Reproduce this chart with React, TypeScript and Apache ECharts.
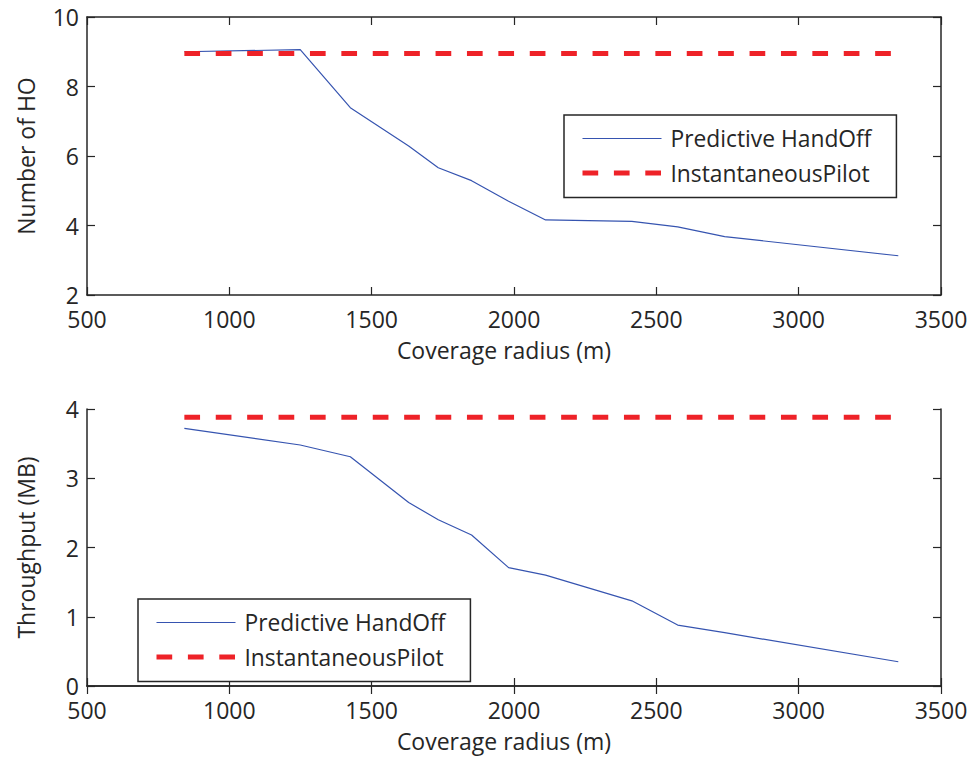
import React, { useEffect, useRef } from "react";
import * as echarts from "echarts";

// Coverage radius (m) at which each scheme was evaluated
const radius = [842, 1249, 1425, 1630, 1734, 1851, 1981, 2111, 2414, 2575, 2740, 3350];
// Predictive hand-off results
const handoffCount = [9.0, 9.06, 7.39, 6.29, 5.66, 5.29, 4.7, 4.16, 4.12, 3.96, 3.68, 3.13];
const handoffThroughput = [3.72, 3.48, 3.31, 2.65, 2.4, 2.18, 1.71, 1.6, 1.23, 0.88, 0.77, 0.35];
// Instantaneous pilot results (flat over the radius range)
const pilotCount = 8.95;
const pilotThroughput = 3.88;

const seriesNames = ["Predictive HandOff", "InstantaneousPilot"];
const xTicks = [500, 1000, 1500, 2000, 2500, 3000, 3500];
const countTicks = [2, 4, 6, 8, 10];
const throughputTicks = [0, 1, 2, 3, 4];

const FONT = "'Open Sans', 'Noto Sans', sans-serif";
const INK = "#262626";
const BLUE = "#3654b0";
const RED = "#ee2228";
const DASH = [15.7, 15.7];

const axisLine = { show: true, lineStyle: { color: INK, width: 1.5 } };
const tick = { show: true, inside: true, length: 8, lineStyle: { color: INK, width: 1.2 } };
const label = { color: INK, fontFamily: FONT, fontSize: 23 };

function xAxes(gridIndex: number) {
  return [
    {
      type: "value",
      gridIndex,
      min: xTicks[0],
      max: xTicks[xTicks.length - 1],
      interval: xTicks[1] - xTicks[0],
      position: "bottom",
      name: "Coverage radius (m)",
      nameLocation: "middle",
      nameGap: 43,
      nameTextStyle: { ...label, padding: [0, 20, 0, 0] },
      axisLine,
      axisTick: tick,
      axisLabel: {
        ...label,
        lineHeight: 17,
        margin: 15,
        formatter: (v: number) => String(v),
      },
      splitLine: { show: false },
    },
    {
      type: "value",
      gridIndex,
      min: xTicks[0],
      max: xTicks[xTicks.length - 1],
      interval: xTicks[1] - xTicks[0],
      position: "top",
      axisLine,
      axisTick: tick,
      axisLabel: { show: false },
      splitLine: { show: false },
    },
  ];
}

function yAxes(gridIndex: number, ticks: number[], name: string, nameGap: number) {
  const base = {
    type: "value",
    gridIndex,
    min: ticks[0],
    max: ticks[ticks.length - 1],
    interval: ticks[1] - ticks[0],
    splitLine: { show: false },
    axisLine,
    axisTick: tick,
  };
  return [
    {
      ...base,
      position: "left",
      name,
      nameLocation: "middle",
      nameGap,
      nameRotate: 90,
      nameTextStyle: { ...label },
      axisLabel: { ...label, lineHeight: 17, margin: 8 },
    },
    { ...base, position: "right", axisLabel: { show: false } },
  ];
}

// Legend entries draw only the line sample; the marker is made invisible.
const hiddenMarker = { color: "rgba(0,0,0,0)", borderWidth: 0, opacity: 0 };

function legend(left: number, top: number) {
  return {
    left,
    top,
    orient: "vertical",
    selectedMode: false,
    backgroundColor: "#fff",
    borderColor: INK,
    borderWidth: 1.5,
    borderRadius: 0,
    padding: [12, 25, 13, 16],
    itemWidth: 79,
    itemHeight: 26,
    itemGap: 11.5,
    textStyle: { ...label, fontSize: 22.8, padding: [0, 0, 0, 4] },
    data: [
      {
        name: seriesNames[0],
        itemStyle: hiddenMarker,
        lineStyle: { color: BLUE, width: 1.2, type: "solid" },
      },
      {
        name: seriesNames[1],
        itemStyle: hiddenMarker,
        lineStyle: { color: RED, width: 5, type: DASH },
      },
    ],
  };
}

function lineSeries(name: string, idx: number, data: number[][], dashed: boolean) {
  return {
    type: "line",
    name,
    xAxisIndex: idx,
    yAxisIndex: idx,
    data,
    symbol: "none",
    silent: true,
    lineStyle: dashed
      ? { color: RED, width: 5, type: DASH, cap: "butt" }
      : { color: BLUE, width: 1.2 },
    itemStyle: { color: dashed ? RED : BLUE },
  };
}

export default function App() {
  const ref = useRef<HTMLDivElement>(null);

  useEffect(() => {
    if (!ref.current) return;
    const chart = echarts.init(ref.current, undefined, { renderer: "svg" });

    const countData = radius.map((r, i) => [r, handoffCount[i]]);
    const throughputData = radius.map((r, i) => [r, handoffThroughput[i]]);
    const pilotCountData = radius.map((r) => [r, pilotCount]);
    const pilotThroughputData = radius.map((r) => [r, pilotThroughput]);

    chart.setOption({
      animation: false,
      backgroundColor: "#ffffff",
      textStyle: { fontFamily: FONT },
      grid: [
        { left: 87, top: 17, width: 854, height: 278 },
        { left: 87, top: 409, width: 854, height: 277 },
      ],
      xAxis: [...xAxes(0), ...xAxes(1)],
      yAxis: [
        ...yAxes(0, countTicks, "Number of HO", 50),
        ...yAxes(1, throughputTicks, "Throughput (MB)", 50),
      ],
      legend: [legend(564, 115), legend(138, 599)],
      series: [
        lineSeries(seriesNames[0], 0, countData, false),
        lineSeries(seriesNames[1], 0, pilotCountData, true),
        lineSeries(seriesNames[0], 2, throughputData, false),
        lineSeries(seriesNames[1], 2, pilotThroughputData, true),
      ],
    });

    return () => chart.dispose();
  }, []);

  return (
    <div
      ref={ref}
      style={{ position: "absolute", left: 0, top: 0, width: 973, height: 760, background: "#fff" }}
    />
  );
}
